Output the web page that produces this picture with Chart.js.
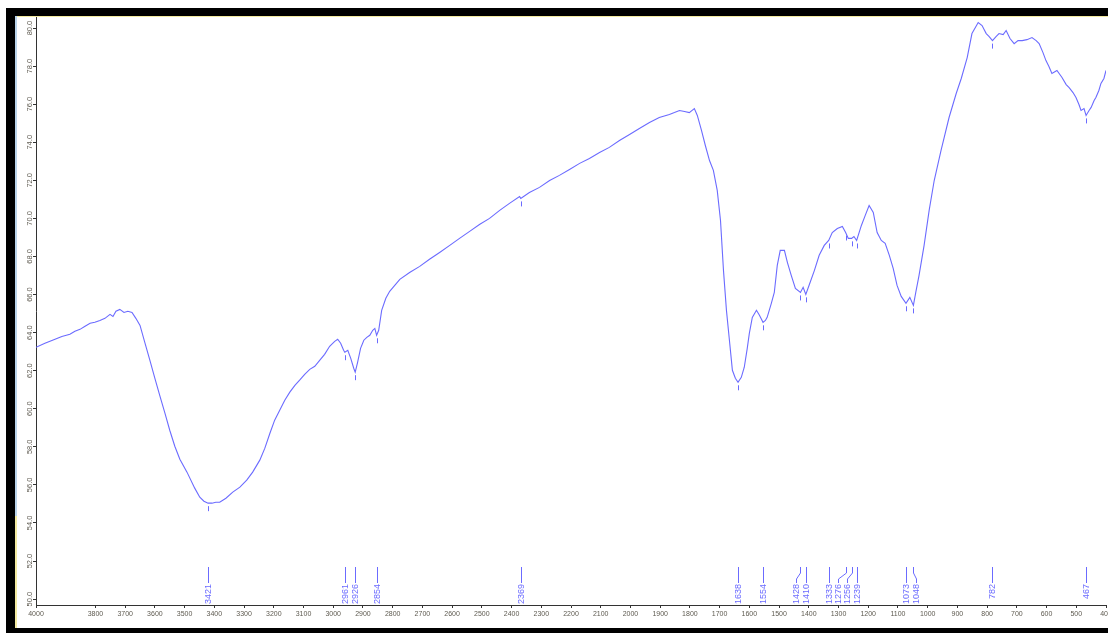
<!DOCTYPE html>
<html>
<head>
<meta charset="utf-8">
<script src="https://cdn.jsdelivr.net/npm/chart.js@4.4.1/dist/chart.umd.min.js"></script>
<style>
  html, body { margin: 0; padding: 0; background: #fff; overflow: hidden; }
  #frame { position: absolute; left: 6px; top: 8px; width: 1110px; height: 630px; background: #000; }
  #panel { position: absolute; left: 15px; top: 16px; width: 1093px; height: 612px; background: #fff;
           border-top: 1px solid #f3eaa0; box-sizing: border-box; }
  #strip { position: absolute; left: 15px; top: 16px; width: 2px; height: 500px; background: #b9d3ea; }
  #strip2 { position: absolute; left: 15px; top: 516px; width: 2px; height: 112px; background: #f3eaa0; }
  #spec { position: absolute; left: 15px; top: 17px; }
</style>
</head>
<body>
<div id="frame"></div>
<div id="panel"></div>
<div id="strip"></div>
<div id="strip2"></div>
<canvas id="spec" width="1093" height="611"></canvas>
<script>
// --- DONNEES DU SPECTRE (nombre d'onde cm-1 / transmittance %) ---
const wavenumber = [
  4000, 3970, 3936, 3913, 3886, 3869, 3852, 3835, 3818, 3802, 3785, 3768, 3751, 3741, 3731, 3718, 3704, 3691, 3677, 3664,
  3650, 3634, 3617, 3600, 3583, 3566, 3550, 3533, 3516, 3492, 3466, 3449, 3435, 3421, 3408, 3395, 3382, 3361, 3338, 3314,
  3291, 3271, 3247, 3230, 3213, 3197, 3180, 3163, 3146, 3129, 3113, 3096, 3079, 3062, 3045, 3029, 3012, 2995, 2985, 2975,
  2965, 2961, 2951, 2941, 2931, 2926, 2918, 2908, 2897, 2887, 2877, 2867, 2860, 2854, 2847, 2837, 2823, 2810, 2793, 2776,
  2743, 2709, 2676, 2642, 2608, 2575, 2541, 2508, 2474, 2440, 2407, 2373, 2369, 2340, 2306, 2272, 2239, 2205, 2171, 2138,
  2104, 2071, 2037, 2003, 1970, 1936, 1903, 1869, 1852, 1835, 1818, 1802, 1785, 1775, 1761, 1748, 1734, 1721, 1708, 1697,
  1687, 1677, 1667, 1657, 1647, 1638, 1627, 1617, 1607, 1600, 1590, 1576, 1566, 1554, 1546, 1540, 1526, 1516, 1506, 1496,
  1482, 1472, 1459, 1445, 1428, 1419, 1410, 1398, 1381, 1365, 1348, 1333, 1321, 1304, 1287, 1276, 1267, 1256, 1248, 1239,
  1223, 1210, 1197, 1183, 1170, 1156, 1143, 1129, 1116, 1103, 1089, 1073, 1060, 1048, 1040, 1029, 1012, 995, 978, 955,
  928, 904, 887, 867, 851, 830, 817, 803, 793, 782, 770, 760, 746, 736, 723, 709, 696, 682, 666, 649,
  635, 625, 612, 602, 592, 582, 565, 548, 534, 524, 511, 501, 491, 484, 474, 467, 457, 450, 440, 434,
  424, 417, 407, 400
];
const transmittance = [
  63.23, 63.44, 63.65, 63.80, 63.91, 64.07, 64.17, 64.33, 64.49, 64.54, 64.64, 64.75, 64.96, 64.85, 65.12, 65.22, 65.06, 65.12, 65.06, 64.75,
  64.38, 63.49, 62.55, 61.60, 60.66, 59.76, 58.87, 58.03, 57.35, 56.67, 55.83, 55.35, 55.14, 55.04, 55.04, 55.09, 55.09, 55.30, 55.62, 55.88,
  56.25, 56.67, 57.30, 57.93, 58.71, 59.40, 59.92, 60.45, 60.87, 61.23, 61.50, 61.81, 62.07, 62.23, 62.55, 62.86, 63.28, 63.54, 63.65, 63.44,
  63.07, 62.97, 63.07, 62.65, 62.13, 61.92, 62.44, 63.17, 63.60, 63.75, 63.86, 64.12, 64.22, 63.86, 64.12, 65.17, 65.80, 66.17, 66.48, 66.80,
  67.16, 67.48, 67.85, 68.21, 68.58, 68.95, 69.32, 69.68, 70.00, 70.42, 70.79, 71.15, 71.05, 71.36, 71.63, 71.99, 72.26, 72.57, 72.89, 73.15,
  73.46, 73.73, 74.09, 74.41, 74.72, 75.04, 75.30, 75.46, 75.56, 75.67, 75.62, 75.56, 75.77, 75.41, 74.62, 73.83, 73.04, 72.52, 71.47, 69.89,
  67.27, 65.17, 63.60, 62.02, 61.60, 61.39, 61.65, 62.18, 63.17, 63.96, 64.80, 65.17, 64.91, 64.54, 64.64, 64.80, 65.54, 66.11, 67.53, 68.32,
  68.32, 67.69, 67.01, 66.32, 66.11, 66.38, 66.01, 66.53, 67.27, 68.06, 68.58, 68.84, 69.26, 69.47, 69.58, 69.26, 68.95, 68.95, 69.05, 68.84,
  69.63, 70.16, 70.68, 70.31, 69.26, 68.84, 68.69, 68.06, 67.37, 66.48, 65.90, 65.54, 65.85, 65.43, 66.11, 67.01, 68.58, 70.42, 71.99, 73.57,
  75.30, 76.56, 77.35, 78.45, 79.71, 80.29, 80.13, 79.71, 79.55, 79.34, 79.55, 79.71, 79.66, 79.87, 79.45, 79.18, 79.34, 79.34, 79.39, 79.50,
  79.34, 79.18, 78.71, 78.29, 77.98, 77.61, 77.77, 77.40, 77.03, 76.87, 76.61, 76.35, 75.98, 75.67, 75.77, 75.41, 75.67, 75.83, 76.19, 76.35,
  76.72, 77.09, 77.35, 77.77
];

// --- PICS ANNOTES ---
const peakWn = [3421, 2961, 2926, 2854, 2369, 1638, 1554, 1428, 1410, 1333, 1276, 1256, 1239, 1073, 1048, 782, 467];
const peakT  = [55.04, 62.97, 61.92, 63.86, 71.05, 61.39, 64.54, 66.11, 66.01, 68.84, 69.26, 68.95, 68.84, 65.54, 65.43, 79.34, 75.41];

// --- AXES ---
const xMin = 400, xMax = 4000, xStep = 100;
const xHiddenTicks = [3900];
const yMin = 49.69, yMax = 80.58, yStep = 2;
const yTickValues = [50, 52, 54, 56, 58, 60, 62, 64, 66, 68, 70, 72, 74, 76, 78, 80];

// decalage horizontal (px) des etiquettes serrees
const labelNudge = { 1428: -4, 1276: -8, 1256: -5, 1048: 3 };

const BLUE = '#6b6bff';

// etiquettes de l'axe Y, tournees de 90 degres
const yLabelsPlugin = {
  id: 'yLabels',
  afterDraw(chart) {
    const ctx = chart.ctx, sy = chart.scales.y, left = chart.chartArea.left;
    ctx.save();
    ctx.fillStyle = '#5e5a50';
    ctx.font = '7.5px "Liberation Sans", Arial, sans-serif';
    ctx.textAlign = 'center';
    ctx.textBaseline = 'middle';
    yTickValues.forEach(v => {
      const y = sy.getPixelForValue(v);
      ctx.save();
      ctx.translate(left - 6, y);
      ctx.rotate(-Math.PI / 2);
      ctx.fillText(v.toFixed(1), 0, 0);
      ctx.restore();
    });
    ctx.restore();
  }
};

// reperes des pics : petit trait sous la courbe + ligne et valeur en bas
const peaksPlugin = {
  id: 'peaks',
  afterDatasetsDraw(chart) {
    const ctx = chart.ctx, sx = chart.scales.x, sy = chart.scales.y;
    const bottom = chart.chartArea.bottom;
    ctx.save();
    ctx.strokeStyle = BLUE;
    ctx.fillStyle = BLUE;
    ctx.lineWidth = 1;
    ctx.font = '9px "Liberation Sans", Arial, sans-serif';
    peakWn.forEach((wn, i) => {
      const x = Math.round(sx.getPixelForValue(wn)) + 0.5;
      const yc = sy.getPixelForValue(peakT[i]);
      // trait sous la courbe
      ctx.beginPath();
      ctx.moveTo(x, yc + 3);
      ctx.lineTo(x, yc + 8);
      ctx.stroke();
      // ligne de rappel en bas
      const lx = x + (labelNudge[wn] || 0);
      const top = bottom - 38;
      ctx.beginPath();
      ctx.moveTo(x, top);
      ctx.lineTo(x, top + 6);
      ctx.lineTo(lx, top + 12);
      ctx.lineTo(lx, bottom - 22);
      ctx.stroke();
      // valeur
      ctx.save();
      ctx.translate(lx, bottom - 21);
      ctx.rotate(-Math.PI / 2);
      ctx.textAlign = 'right';
      ctx.textBaseline = 'middle';
      ctx.fillText(String(wn), 0, 0.5);
      ctx.restore();
    });
    ctx.restore();
  }
};

const points = wavenumber.map((w, i) => ({ x: w, y: transmittance[i] }));

new Chart(document.getElementById('spec'), {
  type: 'line',
  data: {
    datasets: [{
      data: points,
      borderColor: BLUE,
      borderWidth: 1.1,
      pointRadius: 0,
      tension: 0,
      fill: false
    }]
  },
  options: {
    responsive: false,
    animation: false,
    parsing: false,
    layout: { padding: { left: 0, right: 2, top: 0, bottom: 0 } },
    plugins: { legend: { display: false }, tooltip: { enabled: false } },
    scales: {
      x: {
        type: 'linear',
        reverse: true,
        min: xMin,
        max: xMax,
        afterFit: s => { s.height = 23; s.paddingLeft = 0; s.paddingRight = 0; },
        border: { color: '#333', width: 1 },
        grid: { drawOnChartArea: false, tickLength: 3, color: '#333' },
        ticks: {
          stepSize: xStep,
          autoSkip: false,
          maxRotation: 0,
          padding: 2,
          color: '#5e5a50',
          font: { size: 7, family: '"Liberation Sans", Arial, sans-serif' },
          callback: v => xHiddenTicks.includes(v) ? null : String(v)
        }
      },
      y: {
        type: 'linear',
        min: yMin,
        max: yMax,
        afterFit: s => { s.width = 21; s.paddingTop = 0; s.paddingBottom = 0; },
        border: { color: '#333', width: 1 },
        grid: { drawOnChartArea: false, tickLength: 3, color: '#333' },
        ticks: { display: false, stepSize: yStep, includeBounds: false }
      }
    }
  },
  plugins: [yLabelsPlugin, peaksPlugin]
});
</script>
</body>
</html>
